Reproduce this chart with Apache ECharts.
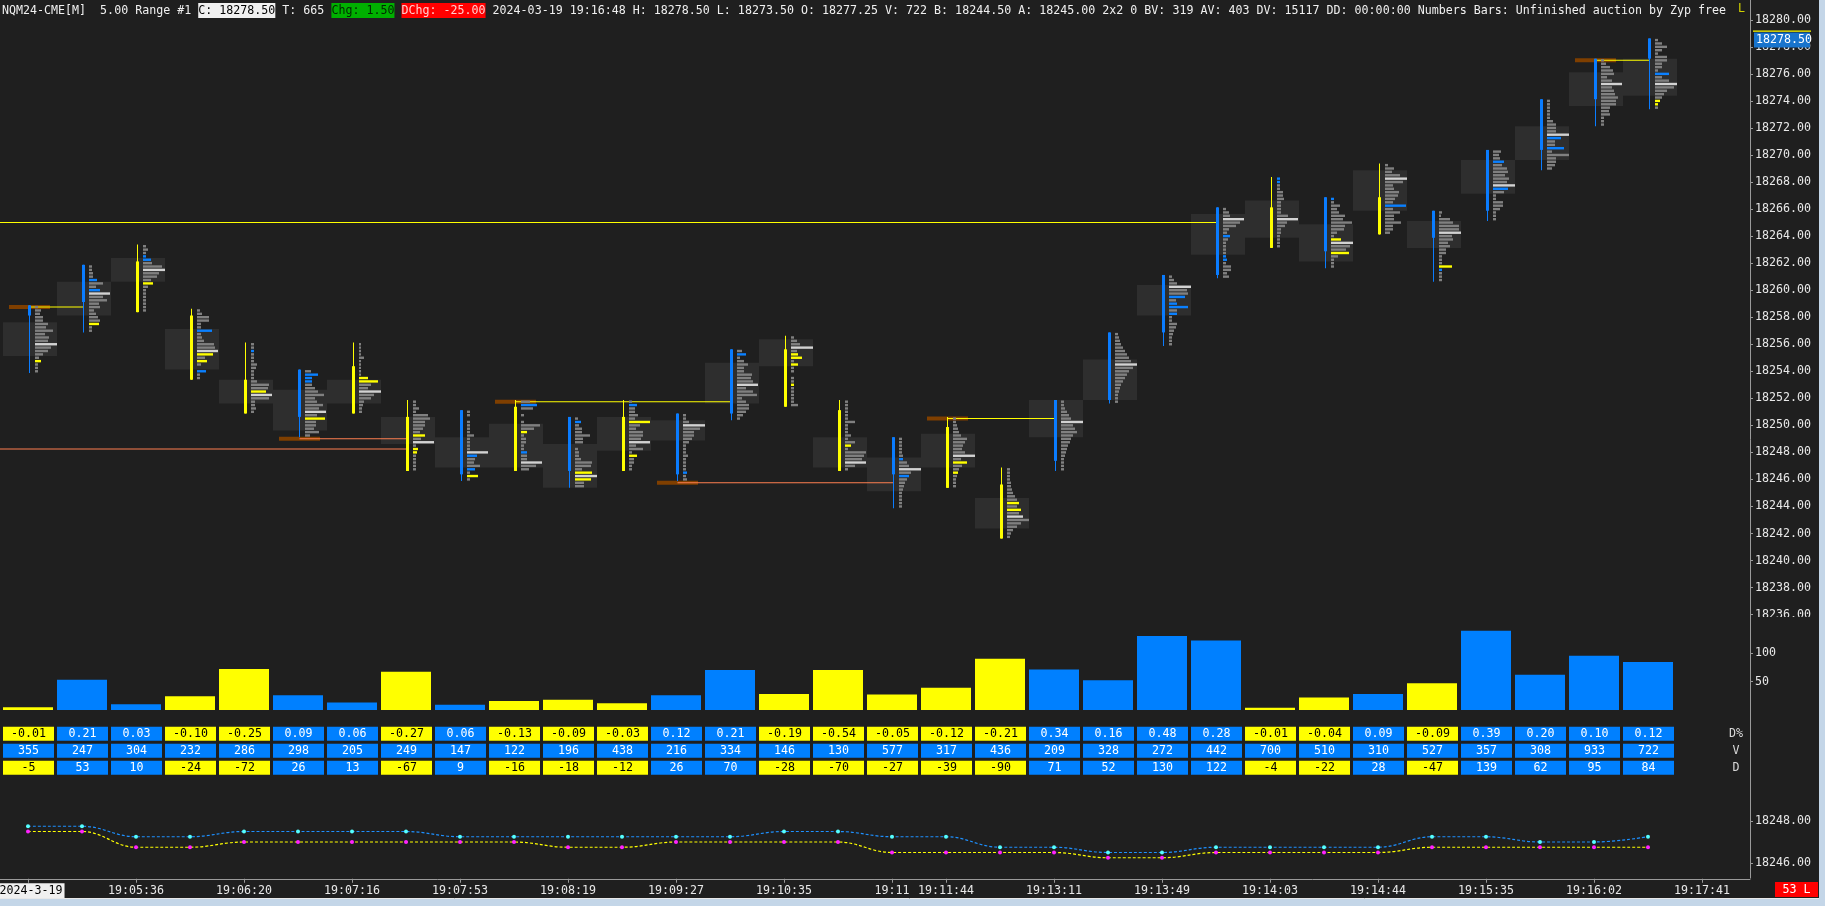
<!DOCTYPE html>
<html>
<head>
<meta charset="utf-8">
<title>NQM24-CME range chart</title>
<script src="https://cdn.jsdelivr.net/npm/echarts@6.0.0/dist/echarts.min.js"></script>
<style>
html,body{margin:0;padding:0;background:#1f1f1f;overflow:hidden;}
#chart{width:1825px;height:906px;}
</style>
</head>
<body>
<div id="chart"></div>
<script>
// ---------------- data ----------------
const opens  = [18258.25,18259.25,18262.0,18258.0,18253.25,18250.75,18254.25,18250.5,18246.5,18251.25,18246.75,18250.5,18246.5,18251.0,18255.5,18251.0,18246.5,18249.75,18245.5,18247.5,18252.0,18257.0,18261.25,18266.0,18263.0,18266.75,18264.0,18266.0,18270.5,18274.25,18277.25];
const highs  = [18258.75,18261.75,18263.25,18258.5,18256.0,18254.0,18256.0,18251.75,18251.0,18251.75,18250.5,18251.75,18250.75,18255.5,18256.5,18251.75,18249.0,18250.5,18246.75,18251.75,18256.75,18261.0,18266.0,18268.25,18266.75,18269.25,18265.75,18270.25,18274.0,18277.0,18278.5];
const lows   = [18254.0,18257.0,18258.5,18253.5,18251.0,18249.25,18251.0,18246.75,18246.0,18246.75,18245.5,18246.75,18246.0,18250.5,18251.5,18246.75,18244.0,18245.5,18241.75,18246.75,18251.75,18256.0,18261.0,18263.25,18261.75,18264.25,18260.75,18265.25,18269.0,18272.25,18273.5];
const closes = [18258.75,18261.75,18258.5,18253.5,18251.0,18254.0,18251.0,18246.75,18251.0,18246.75,18250.5,18246.75,18250.75,18255.5,18251.5,18246.75,18249.0,18245.5,18241.75,18251.75,18256.75,18261.0,18266.0,18263.25,18266.75,18264.25,18265.75,18270.25,18274.0,18277.0,18278.5];
// value area high / low per bar
const vaHigh = [18257.5,18260.5,18262.25,18257.0,18253.25,18252.5,18253.25,18250.5,18249.0,18250.0,18248.5,18250.5,18250.25,18254.5,18256.25,18249.0,18247.5,18249.25,18244.5,18251.75,18254.75,18260.25,18265.5,18266.5,18264.75,18268.75,18265.0,18269.5,18272.0,18276.0,18277.0];
const vaLow  = [18255.25,18258.25,18260.75,18254.25,18251.75,18249.75,18251.75,18248.75,18247.0,18247.0,18245.5,18248.25,18249.0,18251.75,18254.5,18247.0,18245.25,18247.0,18242.5,18249.25,18252.0,18258.25,18262.75,18264.0,18262.25,18266.0,18263.25,18267.25,18269.75,18273.75,18274.5];
// volume-at-price profile per bar, from the high downward (one entry per tick)
const profiles = [
 [3,6,5,8,8,13,11,18,10,14,13,22,16,13,8,4,6,3,3,3],
 [3,3,4,4,8,14,7,11,21,14,18,10,11,5,7,9,11,10,3,3],
 [3,5,3,3,8,9,19,22,16,14,8,10,5,3,3,3,3,3,3,3],
 [3,5,12,12,4,4,15,4,5,7,17,18,21,16,8,10,4,0,9,3,3],
 [3,3,3,3,3,3,6,5,3,3,3,6,18,17,15,21,18,4,4,5,3],
 [6,13,7,7,7,10,13,19,10,12,18,14,21,12,20,11,11,9,14,5],
 [2,2,2,2,5,2,2,2,2,2,9,19,12,9,22,15,12,5,4,3,3],
 [3,3,6,3,15,17,12,12,10,7,12,8,21,3,5,4,3,3,3,3,3],
 [3,3,0,3,3,3,3,7,3,3,3,3,21,10,8,7,13,8,3,11,3],
 [9,16,12,0,3,0,3,19,13,6,3,5,5,3,3,6,6,6,21,15,8],
 [3,6,4,7,7,15,8,8,0,3,4,4,6,17,16,7,17,22,16,9,9],
 [3,8,6,6,9,6,21,11,7,14,14,12,21,7,14,3,8,5,5,3,3],
 [3,3,6,22,17,11,11,9,6,3,3,3,5,3,3,3,3,4,3,4],
 [5,9,3,7,11,7,7,15,14,16,21,9,16,20,5,9,12,12,9,6,3],
 [3,6,9,22,6,7,11,3,7,3,3,0,3,3,3,3,3,3,3,3,7],
 [3,3,3,3,3,3,10,3,3,3,6,3,10,6,3,21,19,17,21,10,3],
 [3,3,3,3,3,4,4,8,10,22,12,10,8,6,5,4,3,3,3,3,3],
 [3,3,4,5,6,8,14,12,10,9,12,22,8,14,9,6,5,4,3,3,3],
 [3,3,3,3,4,4,5,6,8,10,12,10,14,12,16,22,14,10,6,4,3],
 [3,3,4,6,8,10,22,12,14,16,12,10,9,7,6,5,4,3,3,3,3],
 [3,4,5,6,8,10,12,14,16,22,18,14,12,10,8,6,5,4,3,3,3],
 [3,5,8,22,18,19,16,7,8,19,8,8,3,3,8,7,5,4,3,3,3],
 [3,6,7,21,17,13,6,4,7,5,3,3,3,3,3,4,3,8,8,4,6],
 [3,3,3,3,6,6,7,4,4,4,4,11,21,10,8,4,4,3,3,3,3],
 [3,3,9,6,8,14,12,21,14,13,6,3,10,22,19,15,18,7,3,3,3],
 [3,9,7,15,22,18,8,9,14,13,10,8,21,8,15,9,9,16,8,8,5],
 [3,2,11,14,20,20,22,13,14,9,11,7,7,3,3,3,13,3,3,3,3],
 [8,6,7,11,9,14,15,12,16,14,22,15,11,3,3,10,10,7,3,3,3],
 [3,3,3,3,3,3,6,9,9,9,22,14,8,8,17,5,22,9,9,8,5],
 [3,5,9,12,13,6,11,21,11,13,14,17,15,15,9,8,9,3,3,3],
 [3,7,12,7,3,12,12,7,7,3,14,7,14,22,19,12,9,7,5,3,3]
];
// row kind: g = plain, b = ask imbalance, y = bid imbalance, p = point of control
const profileKinds = [
 "gggggggggggpggggyggg","ggggbggbpggggggggygg","gggbbggpgggygggggggg","ggggggbgggggpygyggbgg",
 "ggbgggggggggggypggggg","gbbbggggggggpgyggggg","ggggggggggyyggpgggggg","ggggggggggygpgyyggggg",
 "ggggggggggggpbgggbgyg","gbgggggggygggggbggpgg","gbggggggggggggggypygg","gbggggygggggpgggygggg",
 "gggpgggggggggggggbgg","gbggggggggpgggggggggg","gggpgyygygggggygggggg","gggggggggggggyggggpgg",
 "ggggggbggpgbggggggggg","gggggggggggpgyggyggggg","ggggggggggygygpgggggg","ggggggpgggggggggggggg",
 "gggggggggpggggggggggg","gggpggbgbbgbggggggggg","gggpggggbgggggbbggggg","bbggggggggggpgggggggg",
 "bgggggggggggypggygggg","ggggpgggggggbgggggggg","ggggggpgggggggggybggg","gggbggggggpbggggggggg",
 "ggggggggggpbggbgggggg","gggggggpgggggggggggg","ggggggggggbggpggggyyg"
];
// unfinished auction levels: [fromBar, price, toBar, side, marker]
const auctionLines = [
 [-1, 18265.0, 22, 'high', false],
 [-1, 18248.25, 7, 'low', false],
 [0, 18258.75, 1, 'high', true],
 [5, 18249.0, 7, 'low', true],
 [9, 18251.75, 13, 'high', true],
 [12, 18245.75, 16, 'low', true],
 [17, 18250.5, 19, 'high', true],
 [29, 18277.0, 30, 'high', true]
];
const lastPrice = 18278.5;
// numbers table
const deltaPct = [-0.01,0.21,0.03,-0.10,-0.25,0.09,0.06,-0.27,0.06,-0.13,-0.09,-0.03,0.12,0.21,-0.19,-0.54,-0.05,-0.12,-0.21,0.34,0.16,0.48,0.28,-0.01,-0.04,0.09,-0.09,0.39,0.20,0.10,0.12];
const volumes  = [355,247,304,232,286,298,205,249,147,122,196,438,216,334,146,130,577,317,436,209,328,272,442,700,510,310,527,357,308,933,722];
const deltas   = [-5,53,10,-24,-72,26,13,-67,9,-16,-18,-12,26,70,-28,-70,-27,-39,-90,71,52,130,122,-4,-22,28,-47,139,62,95,84];
// lower study lines
const blueLine   = [18247.75,18247.75,18247.25,18247.25,18247.5,18247.5,18247.5,18247.5,18247.25,18247.25,18247.25,18247.25,18247.25,18247.25,18247.5,18247.5,18247.25,18247.25,18246.75,18246.75,18246.5,18246.5,18246.75,18246.75,18246.75,18246.75,18247.25,18247.25,18247.0,18247.0,18247.25];
const yellowLine = [18247.5,18247.5,18246.75,18246.75,18247.0,18247.0,18247.0,18247.0,18247.0,18247.0,18246.75,18246.75,18247.0,18247.0,18247.0,18247.0,18246.5,18246.5,18246.5,18246.5,18246.25,18246.25,18246.5,18246.5,18246.5,18246.5,18246.75,18246.75,18246.75,18246.75,18246.75];
// time axis
const timeTickBars   = [0,2,4,6,8,10,12,14,16,17,19,21,23,25,27,29,31];
const timeTickLabels = ['2024-3-19','19:05:36','19:06:20','19:07:16','19:07:53','19:08:19','19:09:27','19:10:35','19:11','19:11:44','19:13:11','19:13:49','19:14:03','19:14:44','19:15:35','19:16:02','19:17:41'];
const volumeTicks = [50, 100];
const lowerTicks = [18246, 18248];

// ---------------- styling ----------------
const MONO = "'DejaVu Sans Mono', monospace";
const FS = 11.65;
const FONT = FS + 'px ' + MONO;
const BG = '#1f1f1f';
const BLUE = '#0a7cff';
const YEL = '#ffff00';
const KIND_COL = {g:'#808080', b:'#0a80ff', y:'#ffff00', p:'#d2d2d2'};
const XMIN = -28/54, XMAX = (1750-28)/54;
const LOWER_MIN = 18245.25, LOWER_MAX = 18249;
const idx = deltas.map((_, i) => i);

function yAt(api, i, p) { return api.coord([i, p])[1]; }

function renderVA(params, api) {
  const i = params.dataIndex;
  const cx = api.coord([i, highs[i]])[0];
  const tick = yAt(api, i, 18000) - yAt(api, i, 18000.25);
  const y0 = yAt(api, i, vaHigh[i]) - tick / 2;
  const y1 = yAt(api, i, vaLow[i]) + tick / 2;
  return {type:'rect', shape:{x:cx-25, y:y0, width:54, height:y1-y0}, style:{fill:'#2e2e2e'}};
}

function renderBar(params, api) {
  const i = params.dataIndex;
  const cx = api.coord([i, highs[i]])[0];
  const tick = yAt(api, i, 18000) - yAt(api, i, 18000.25);
  const half = tick / 2;
  const up = closes[i] >= opens[i];
  const col = up ? BLUE : YEL;
  const yH = yAt(api, i, highs[i]), yL = yAt(api, i, lows[i]);
  const yO = yAt(api, i, opens[i]), yC = yAt(api, i, closes[i]);
  const children = [];
  profiles[i].forEach((w, k) => {
    if (!w) return;
    const yk = yAt(api, i, highs[i] - 0.25 * k);
    children.push({type:'rect', shape:{x:cx+7, y:yk-1.2, width:w, height:2.4},
      style:{fill: KIND_COL[profileKinds[i][k]]}});
  });
  children.push({type:'rect', shape:{x:cx+1, y:yH-half, width:1, height:yL-yH+tick}, style:{fill:col}});
  const top = Math.min(yO, yC) - half, bot = Math.max(yO, yC) + half;
  children.push({type:'rect', shape:{x:cx, y:top, width:3, height:bot-top}, style:{fill:col}});
  return {type:'group', children};
}

function renderAuction(params, api) {
  const [s, price, e, side, marker] = auctionLines[params.dataIndex];
  const xs = api.coord([s, price])[0] + 1.5;
  const xe = api.coord([e, price])[0] + 1.5;
  const y = api.coord([s, price])[1];
  const children = [];
  if (marker) children.push({type:'rect', shape:{x:xs-20.5, y:y-2, width:41, height:4}, style:{fill:'#7f3f00'}});
  children.push({type:'rect', shape:{x:xs, y:y-0.5, width:xe-xs, height:1},
    style:{fill: side === 'high' ? '#ffff00' : '#ff7f50'}});
  return {type:'group', children};
}

function renderLast(params, api) {
  const y = api.coord([30, lastPrice])[1];
  return {type:'group', children:[
    {type:'rect', shape:{x:1753, y:y-9.5, width:58, height:1.2}, style:{fill:'#ffff00'}},
    {type:'rect', shape:{x:1754, y:y-7.5, width:56, height:15}, style:{fill:'#1874cd'}},
    {type:'text', x:1756, y:y, style:{text:lastPrice.toFixed(2), fill:'#ffffff', font:FONT, verticalAlign:'middle', align:'left'}}
  ]};
}

function renderCell(params, api) {
  const i = api.value(0), r = api.value(1);
  const cx = api.coord([i, r])[0];
  const y0 = api.coord([i, r])[1], y1 = api.coord([i, r + 1])[1];
  const neg = deltas[i] < 0;
  let txt, fill;
  if (r === 0) { txt = deltaPct[i].toFixed(2); fill = neg ? YEL : '#0080ff'; }
  else if (r === 1) { txt = String(volumes[i]); fill = '#0080ff'; }
  else { txt = String(deltas[i]); fill = neg ? YEL : '#0080ff'; }
  const tcol = fill === YEL ? '#000000' : '#ffffff';
  return {type:'group', children:[
    {type:'rect', shape:{x:cx-25, y:y0+1.5, width:51, height:y1-y0-3}, style:{fill}},
    {type:'text', x:cx+0.5, y:(y0+y1)/2, style:{text:txt, fill:tcol, font:FONT, align:'center', verticalAlign:'middle'}}
  ]};
}

function renderTimeLabel(params, api) {
  const b = api.value(0), k = api.value(1);
  const [x, y] = api.coord([b, LOWER_MIN]);
  const first = k === 0;
  return {type:'text', x: first ? x + 3 : x, y: y + 12,
    style:{text: timeTickLabels[k], font:FONT, align:'center', verticalAlign:'middle',
      fill: first ? '#000000' : '#e8e8e8',
      backgroundColor: first ? '#f0f0f0' : null,
      padding: first ? [2,2,1,2] : 0}};
}

const hiddenX = g => ({type:'value', gridIndex:g, min:XMIN, max:XMAX, show:false, axisLine:{onZero:false}});

const option = {
  backgroundColor: BG,
  animation: false,
  grid: [
    {left:0, width:1750, top:19.8, height:594.8},
    {left:0, width:1750, top:624.5, height:85.5},
    {left:0, width:1750, top:725.2, height:51},
    {left:0, width:1750, top:800, height:78.75}
  ],
  xAxis: [
    hiddenX(0), hiddenX(1), hiddenX(2),
    {type:'value', gridIndex:3, min:XMIN, max:XMAX,
     axisLine:{show:true, onZero:false, lineStyle:{color:'#9a9a9a', width:1}},
     axisTick:{show:true, length:4, customValues:timeTickBars, lineStyle:{color:'#9a9a9a'}},
     axisLabel:{show:false},
     splitLine:{show:false}}
  ],
  yAxis: [
    {type:'value', gridIndex:0, position:'right', min:18236, max:18280, interval:2,
     axisLine:{show:false, onZero:false}, splitLine:{show:false},
     axisTick:{show:true, length:3, lineStyle:{color:'#9a9a9a'}},
     axisLabel:{color:'#e8e8e8', fontFamily:MONO, fontSize:FS, margin:5, formatter:v => v.toFixed(2)}},
    {type:'value', gridIndex:1, position:'right', min:0, max:150,
     axisLine:{show:false, onZero:false}, splitLine:{show:false},
     axisTick:{show:true, length:3, customValues:volumeTicks, lineStyle:{color:'#9a9a9a'}},
     axisLabel:{customValues:volumeTicks, color:'#e8e8e8', fontFamily:MONO, fontSize:FS, margin:5}},
    {type:'value', gridIndex:2, min:0, max:3, inverse:true, show:false, axisLine:{onZero:false}},
    {type:'value', gridIndex:3, position:'right', min:LOWER_MIN, max:LOWER_MAX,
     axisLine:{show:false, onZero:false}, splitLine:{show:false},
     axisTick:{show:true, length:3, customValues:lowerTicks, lineStyle:{color:'#9a9a9a'}},
     axisLabel:{customValues:lowerTicks, color:'#e8e8e8', fontFamily:MONO, fontSize:FS, margin:5, formatter:v => v.toFixed(2)}}
  ],
  series: [
    {type:'custom', xAxisIndex:0, yAxisIndex:0, z:1, renderItem:renderVA, data:idx.map(i => [i, highs[i]])},
    {type:'custom', xAxisIndex:0, yAxisIndex:0, z:2, renderItem:renderAuction, data:auctionLines.map(a => [a[0], a[1]])},
    {type:'custom', xAxisIndex:0, yAxisIndex:0, z:3, renderItem:renderBar, data:idx.map(i => [i, highs[i]])},
    {type:'custom', xAxisIndex:0, yAxisIndex:0, z:10, renderItem:renderLast, data:[[30, lastPrice]]},
    {type:'bar', xAxisIndex:1, yAxisIndex:1, barWidth:50,
     data: idx.map(i => ({value:[i, Math.abs(deltas[i])], itemStyle:{color: deltas[i] < 0 ? YEL : '#0080ff'}}))},
    {type:'custom', xAxisIndex:2, yAxisIndex:2, renderItem:renderCell,
     data: idx.flatMap(i => [[i,0],[i,1],[i,2]])},
    {type:'line', xAxisIndex:3, yAxisIndex:3, data: idx.map(i => [i, blueLine[i]]), smooth:0.4, smoothMonotone:'x',
     showAllSymbol:true, symbol:'circle', symbolSize:4, itemStyle:{color:'#55ffff'},
     lineStyle:{color:'#1e90ff', width:1.2, type:[3,2]}},
    {type:'line', xAxisIndex:3, yAxisIndex:3, data: idx.map(i => [i, yellowLine[i]]), smooth:0.4, smoothMonotone:'x',
     showAllSymbol:true, symbol:'circle', symbolSize:4, itemStyle:{color:'#ff22ff'},
     lineStyle:{color:'#ffff00', width:1.2, type:[3,2]}},
    {type:'custom', xAxisIndex:3, yAxisIndex:3, z:20, renderItem:renderTimeLabel,
     data: timeTickBars.map((b, k) => [b, k])}
  ],
  graphic: [
    {type:'text', x:2, y:3, z:50, style:{
      text:'NQM24-CME[M]  5.00 Range #1 {c|C: 18278.50} T: 665 {g|Chg: 1.50} {r|DChg: -25.00} 2024-03-19 19:16:48 H: 18278.50 L: 18273.50 O: 18277.25 V: 722 B: 18244.50 A: 18245.00 2x2 0 BV: 319 AV: 403 DV: 15117 DD: 00:00:00 Numbers Bars: Unfinished auction by Zyp free',
      font: FONT, fill:'#f0f0f0',
      rich:{
        c:{backgroundColor:'#f0f0f0', fill:'#000000', color:'#000000', padding:[2,0,1,0], font:FONT},
        g:{backgroundColor:'#00b000', fill:'#002800', color:'#002800', padding:[2,0,1,0], font:FONT},
        r:{backgroundColor:'#ff0000', fill:'#ffd0d0', color:'#ffd0d0', padding:[2,0,1,0], font:FONT}
      }}},
    {type:'text', x:1738, y:3, z:50, style:{text:'L', font:FONT, fill:'#d0d000'}},
    {type:'rect', z:60, shape:{x:1751, y:617, width:68, height:8}, style:{fill:BG}},
    {type:'line', z:61, shape:{x1:1750.5, y1:0, x2:1750.5, y2:878.5}, style:{stroke:'#9a9a9a', lineWidth:1}},
    {type:'text', x:1736, y:733.7, z:50, style:{text:'D%', font:FONT, fill:'#d8d8d8', align:'center', verticalAlign:'middle'}},
    {type:'text', x:1736, y:750.7, z:50, style:{text:'V', font:FONT, fill:'#d8d8d8', align:'center', verticalAlign:'middle'}},
    {type:'text', x:1736, y:767.7, z:50, style:{text:'D', font:FONT, fill:'#d8d8d8', align:'center', verticalAlign:'middle'}},
    {type:'rect', z:50, shape:{x:1775, y:882, width:43, height:15}, style:{fill:'#ff0000'}},
    {type:'text', x:1796.5, y:889.5, z:51, style:{text:'53 L', font:FONT, fill:'#ffffff', align:'center', verticalAlign:'middle'}},
    {type:'rect', z:70, shape:{x:1819, y:0, width:6, height:906}, style:{fill:'#c4d6e8'}},
    {type:'rect', z:70, shape:{x:0, y:899, width:1825, height:7}, style:{fill:'#c4d6e8'}},
    {type:'line', z:71, shape:{x1:0, y1:898.5, x2:1819, y2:898.5}, style:{stroke:'#e8e8e8', lineWidth:1}}
  ]
};

const chart = echarts.init(document.getElementById('chart'), null, {renderer:'canvas'});
chart.setOption(option);
</script>
</body>
</html>
